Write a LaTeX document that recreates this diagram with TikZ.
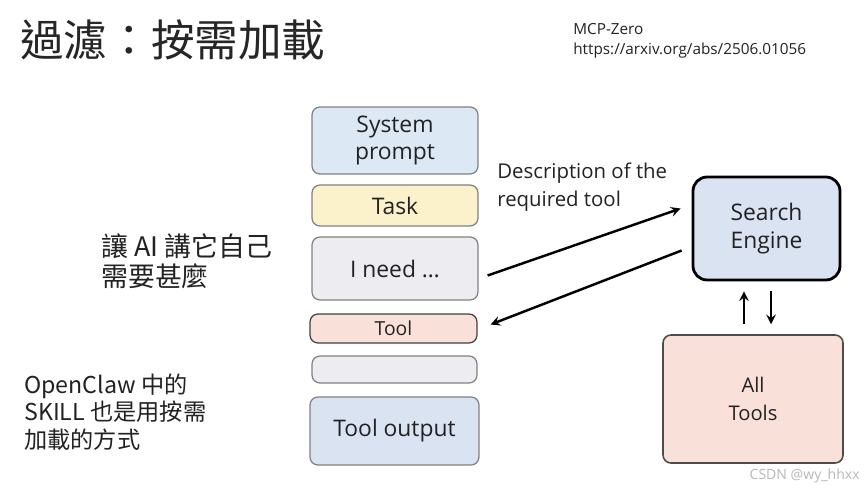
\documentclass[tikz,border=0pt]{standalone}
\usepackage{fontspec}
\setmainfont{Open Sans}
\newfontfamily\cjk{Noto Sans CJK TC}
\usetikzlibrary{arrows,positioning}

\definecolor{sysblue}{HTML}{DCE8F4}
\definecolor{taskyellow}{HTML}{FBF1CB}
\definecolor{needgray}{HTML}{EDEDF1}
\definecolor{toolpink}{HTML}{F9E1DA}
\definecolor{outblue}{HTML}{DAE3F1}
\definecolor{inkgray}{HTML}{222222}

\begin{document}
\begin{tikzpicture}[x=0.02cm,y=-0.02cm,
  layer/.style={draw=black!50,line width=0.7pt,rounded corners=4.5pt,inner sep=0pt,
    text=inkgray,font=\fontsize{13}{15}\selectfont},
  arr/.style={->,>=stealth,line width=1.4pt},
  note/.style={anchor=west,align=left,inner sep=0pt,text=inkgray}]
  \useasboundingbox[fill=white] (0,0) rectangle (865,490);

  % Title and reference
  \node[note,font=\cjk\fontsize{24.8}{28}\selectfont,text=black!85] (title) at (20,40) {過濾：按需加載};
  \node[note,font=\fontsize{8.7}{11.4}\selectfont] (paper) at (573,41)
    {MCP-Zero\\https://arxiv.org/abs/2506.01056};

  % Context stack
  \node[layer,fill=sysblue,minimum width=3.32cm,minimum height=1.34cm,align=center,
    font=\fontsize{13}{15.5}\selectfont] (sys) at (395,140.5) {System\\prompt};
  \node[layer,fill=taskyellow,minimum width=3.32cm,minimum height=0.82cm] (task) at (395,205.5) {Task};
  \node[layer,fill=needgray,minimum width=3.32cm,minimum height=1.26cm] (need) at (395,268.5) {I need \dots};
  \node[layer,fill=toolpink,draw=black!75,minimum width=3.34cm,minimum height=0.58cm,
    font=\fontsize{11}{13}\selectfont] (tool) at (393.5,328.5) {Tool};
  \node[layer,fill=needgray,minimum width=3.3cm,minimum height=0.54cm] (empty) at (394.5,369.5) {};
  \node[layer,fill=outblue,minimum width=3.38cm,minimum height=1.36cm] (output) at (394.5,431) {Tool output};

  % Search engine and tools
  \node[layer,fill=outblue,draw=black,line width=1.6pt,rounded corners=8pt,align=center,
    minimum width=2.94cm,minimum height=2.06cm,font=\fontsize{13}{15.5}\selectfont] (search) at (766.5,228.5) {Search\\Engine};
  \node[layer,fill=toolpink,draw=black!70,line width=0.9pt,align=center,
    minimum width=3.6cm,minimum height=2.56cm,font=\fontsize{11.5}{15.5}\selectfont] (tools) at (753,399) {All\\Tools};

  % Query and answer
  \draw[arr] ([shift={(9,7)}]need.east) -- ([shift={(-11,-20)}]search.west);
  \draw[arr] ([shift={(-10,22)}]search.west) -- ([shift={(13,-4)}]tool.east);
  \node[note,font=\fontsize{11.6}{16}\selectfont] (desc) at (497,187) {Description of the\\required tool};

  % Lookup
  \coordinate (upcol) at (744,0);
  \coordinate (downcol) at (771,0);
  \draw[arr,shorten <=0.2cm,shorten >=0.2cm] (upcol |- tools.north) -- (upcol |- search.south);
  \draw[arr,shorten <=0.2cm,shorten >=0.2cm] (downcol |- search.south) -- (downcol |- tools.north);

  % Side notes
  \node[note,font=\cjk\fontsize{15.3}{17.2}\selectfont] (self) at (101,261) {讓 AI 講它自己\\需要甚麼};
  \node[note,font=\cjk\fontsize{13.2}{15.6}\selectfont] (skill) at (24,412) {OpenClaw 中的\\SKILL 也是用按需\\加載的方式};

  % Watermark
  \node[anchor=east,inner sep=0pt,text=black!28,font=\fontsize{8}{9}\selectfont] (mark) at (860,476) {CSDN @wy\_hhxx};
\end{tikzpicture}
\end{document}
